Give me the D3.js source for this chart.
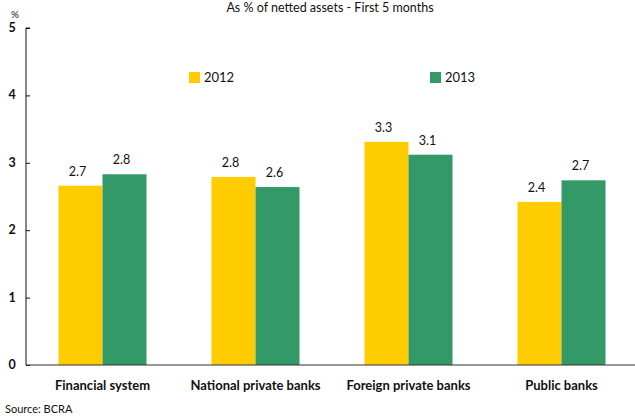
<!DOCTYPE html>
<html>
<head>
<meta charset="utf-8">
<script src="https://cdn.jsdelivr.net/npm/d3@7/dist/d3.min.js"></script>
<style>
  html, body { margin: 0; padding: 0; background: #fff; }
  svg { display: block; font-family: "Lato", "Open Sans", sans-serif; }
</style>
</head>
<body>
<svg id="chart" width="635" height="417"></svg>
<script>
const categories = ["Financial system", "National private banks", "Foreign private banks", "Public banks"];
const seriesNames = ["2012", "2013"];
const values2012 = [2.66, 2.79, 3.31, 2.42];
const values2013 = [2.83, 2.64, 3.12, 2.74];
const yTicks = [0, 1, 2, 3, 4, 5];
const colors = ["#FFCC00", "#339966"];

const svg = d3.select("#chart");
const margin = { left: 26 };
const y0 = 365, yTop = 28;

const x = d3.scaleBand().domain(categories).range([margin.left, 638]).padding(0);
const barW = 44;
const xs = d3.scaleBand().domain(seriesNames).range([0, barW * 2]);
const y = d3.scaleLinear().domain([0, 5]).range([y0, yTop]);

const rows = categories.map((c, i) => ({ cat: c, vals: [values2012[i], values2013[i]] }));

// Title
svg.append("text")
  .attr("x", 330).attr("y", 12)
  .attr("text-anchor", "middle")
  .attr("font-size", 12.5).attr("fill", "#111")
  .text("As % of netted assets - First 5 months");

// Bars
const groups = svg.selectAll("g.grp").data(rows).join("g")
  .attr("class", "grp")
  .attr("transform", d => `translate(${x(d.cat) + x.bandwidth() / 2 - barW},0)`);

groups.selectAll("rect").data(d => d.vals.map((v, i) => ({ v, s: seriesNames[i], i })))
  .join("rect")
  .attr("x", d => xs(d.s))
  .attr("width", xs.bandwidth())
  .attr("y", d => y(d.v))
  .attr("height", d => y0 - y(d.v))
  .attr("fill", d => colors[d.i]);

groups.selectAll("text.val").data(d => d.vals.map((v, i) => ({ v, s: seriesNames[i] })))
  .join("text")
  .attr("class", "val")
  .attr("x", d => xs(d.s) + xs.bandwidth() / 2 - 3)
  .attr("y", d => y(d.v) - 10)
  .attr("text-anchor", "middle")
  .attr("font-size", 12.5).attr("fill", "#111")
  .text(d => d3.format(".1f")(d.v));

// Y axis
const yAxis = svg.append("g")
  .attr("transform", `translate(${margin.left},0)`)
  .call(d3.axisRight(y).tickValues(yTicks).tickSize(4).tickFormat(""));
yAxis.select(".domain").attr("d", `M4,${yTop}H0V${y0}`).attr("stroke", "#111");
yAxis.selectAll(".tick line").attr("stroke", "#111");

svg.append("g").selectAll("text").data(yTicks).join("text")
  .attr("x", 12).attr("y", d => y(d) + 4)
  .attr("text-anchor", "middle")
  .attr("font-size", 12.5).attr("font-weight", "bold").attr("fill", "#111")
  .text(d => d);

svg.append("text").attr("x", 15).attr("y", 18)
  .attr("text-anchor", "middle").attr("font-size", 10).attr("fill", "#111")
  .text("%");

// X axis
const xAxis = svg.append("g")
  .attr("transform", `translate(0,${y0})`)
  .call(d3.axisBottom(x).tickSize(0).tickPadding(16));
xAxis.select(".domain").attr("d", `M${margin.left},0H635`).attr("stroke", "#333").attr("stroke-width", 1.2);
xAxis.selectAll(".tick text")
  .attr("font-size", 13).attr("font-weight", "bold").attr("fill", "#111")
  .attr("font-family", "Lato, 'Open Sans', sans-serif");

// Legend
const legendX = [189, 430];
seriesNames.forEach((s, i) => {
  svg.append("rect").attr("x", legendX[i]).attr("y", 72).attr("width", 11).attr("height", 11).attr("fill", colors[i]);
  svg.append("text").attr("x", legendX[i] + 15).attr("y", 82)
    .attr("font-size", 13).attr("fill", "#111").text(s);
});

// Source
svg.append("text").attr("x", 5).attr("y", 413)
  .attr("font-size", 11).attr("fill", "#111").text("Source: BCRA");
</script>
</body>
</html>
